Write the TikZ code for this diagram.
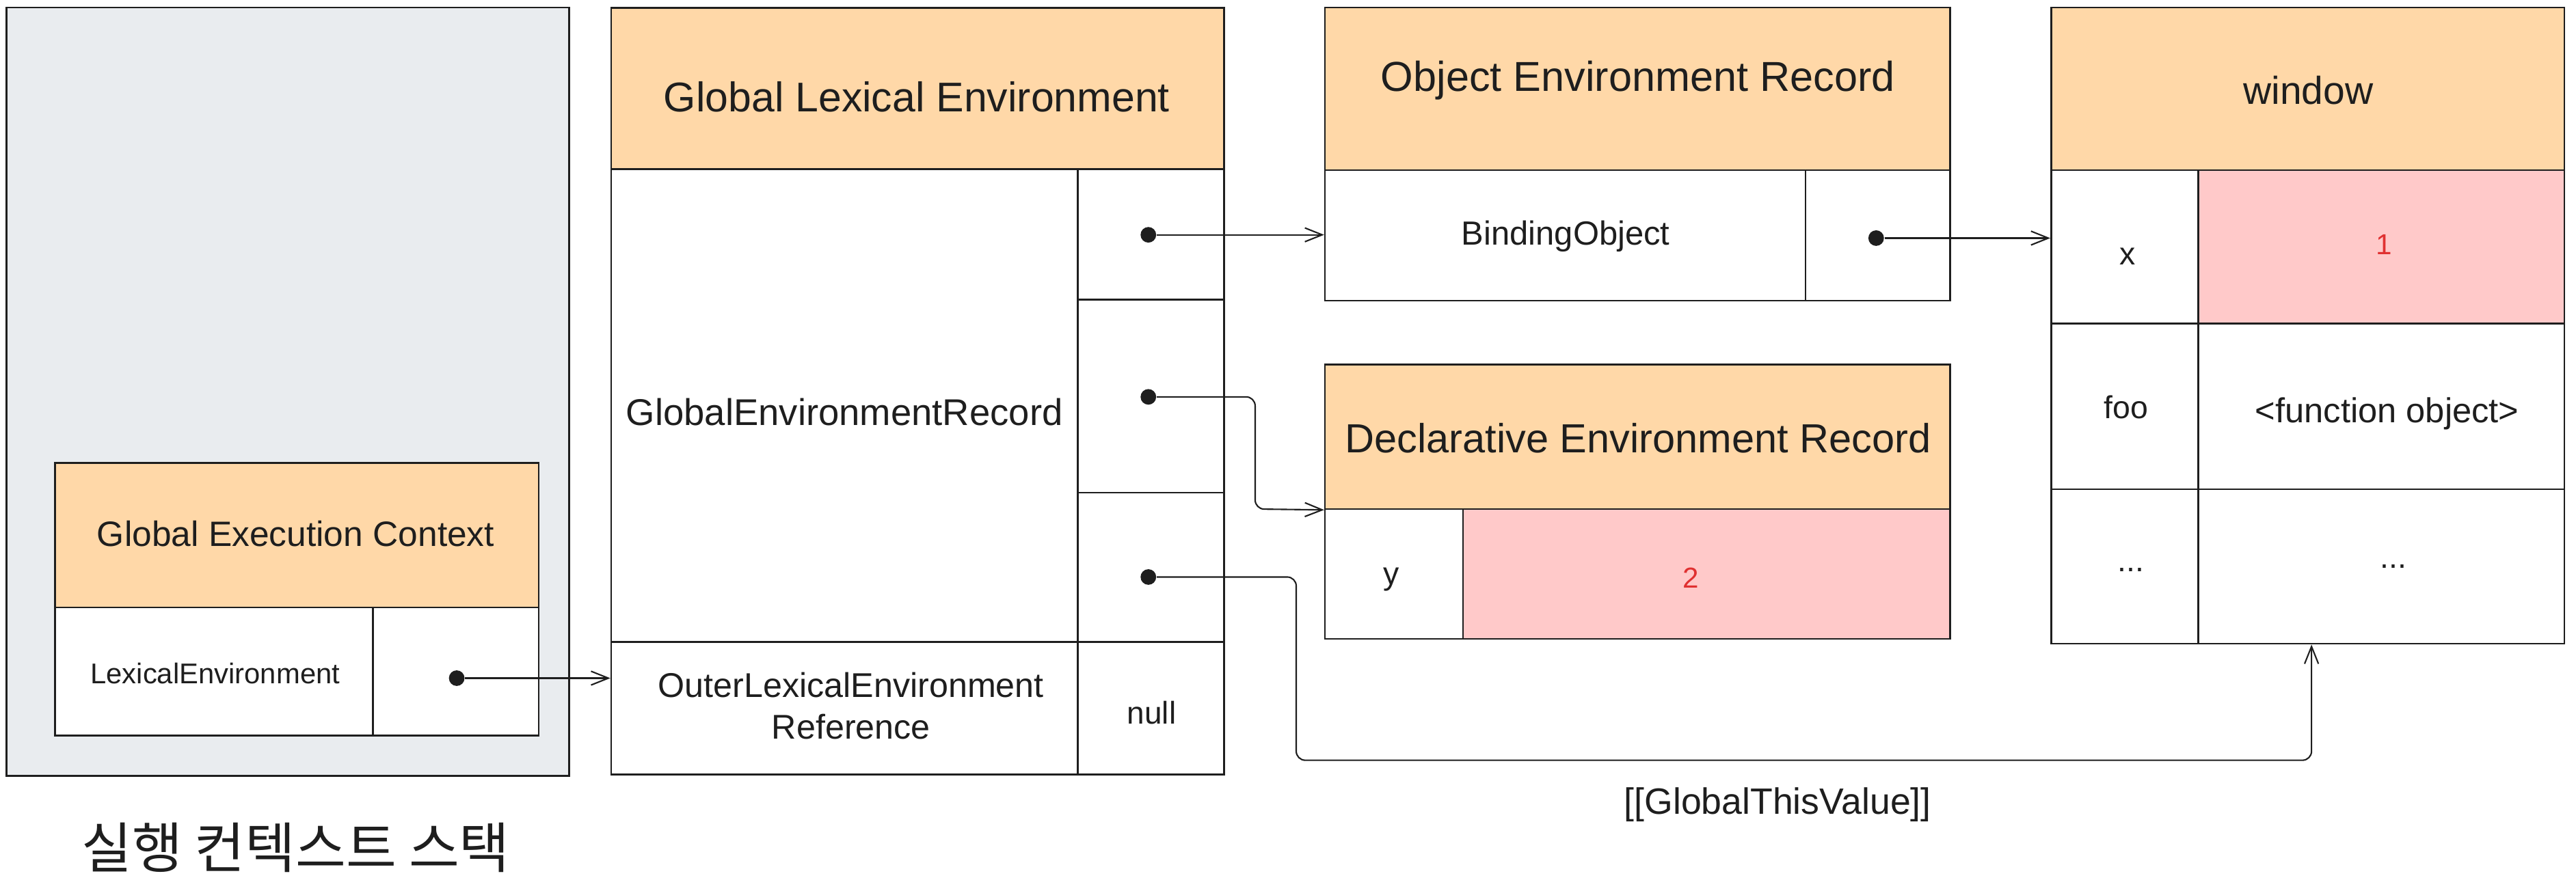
\documentclass[tikz,border=0pt]{standalone}
\usepackage{fontspec}
\setmainfont{Liberation Sans}
\newfontfamily\krfont{Noto Sans CJK KR}
\usetikzlibrary{fit,arrows.meta}
\definecolor{bggray}{HTML}{E9ECEF}
\definecolor{hdr}{HTML}{FFD8A8}
\definecolor{pinkc}{HTML}{FFC9C9}
\definecolor{redt}{HTML}{E03131}
\definecolor{ink}{HTML}{1E1E1E}
\begin{document}
\begin{tikzpicture}[x=0.02cm,y=-0.02cm,
  cell/.style={draw=ink, line width=0.6pt, inner sep=0pt},
  hdrcell/.style={cell, fill=hdr},
  txt/.style={inner sep=0pt, text=ink, align=center, font=\fontsize{#1}{#1}\selectfont},
  redtxt/.style={txt=#1, text=redt},
  dotn/.style={circle, fill=ink, inner sep=0pt, minimum size=0.19cm},
  conn/.style={draw=ink, line width=0.5pt, -{Straight Barb[length=6pt,width=4.8pt]}, rounded corners=0.11cm}
]
\fill[white] (0,0) rectangle (1568,542.6);
\useasboundingbox (0,0) rectangle (1568,542.6);

% execution context stack
\node[cell, fill=bggray, fit={(4,4.5)(346.5,472.5)}] (stack) {};
\node[hdrcell, fit={(33.5,282)(328,370)}] (gec) {};
\node[cell, fill=white, fit={(33.5,370)(227,448)}] (lexenv) {};
\node[cell, fill=white, fit={(227,370)(328,448)}] (lexptr) {};
\node[dotn] (d0) at (278,413) {};
\node[txt=12.2] (gecT) at (180,325) {Global Execution Context};
\node[txt=9.9] (lexenvT) at (131,410) {LexicalEnvironment};
\node[inner sep=0pt, text=ink, font=\krfont\fontsize{19}{19}\selectfont] (kr) at (180,516) {실행 컨텍스트 스택};

% global lexical environment
\node[hdrcell, fit={(372,4.8)(745,103)}] (gle) {};
\node[cell, fit={(372,103)(656,391)}] (ger) {};
\node[cell, fit={(656,103)(745,182.5)}] (gerA) {};
\node[cell, fit={(656,182.5)(745,300)}] (gerB) {};
\node[cell, fit={(656,300)(745,391)}] (gerC) {};
\node[cell, fit={(372,391)(656,471.6)}] (oler) {};
\node[cell, fit={(656,391)(745,471.6)}] (nullc) {};
\node[txt=14.4] (gleT) at (558,59) {Global Lexical Environment};
\node[txt=12.9] (gerT) at (514,251) {GlobalEnvironmentRecord};
\node[txt=11.9, font=\fontsize{11.9}{14.5}\selectfont] (olerT) at (518,430) {OuterLexicalEnvironment\\Reference};
\node[txt=10.9] (nullT) at (701,434) {null};
\node[dotn] (d1) at (699,143) {};
\node[dotn] (d2) at (699,241.7) {};
\node[dotn] (d3) at (699,351.4) {};

% object environment record
\node[hdrcell, fit={(806.5,4.5)(1187,103.6)}] (oer) {};
\node[cell, fit={(806.5,103.6)(1099,183)}] (bind) {};
\node[cell, fit={(1099,103.6)(1187,183)}] (bindptr) {};
\node[dotn] (d4) at (1142,145) {};
\node[txt=14.5] (oerT) at (997,49) {Object Environment Record};
\node[txt=11.6] (bindT) at (953,144) {BindingObject};

% declarative environment record
\node[hdrcell, fit={(806.5,222)(1187,310)}] (der) {};
\node[cell, fit={(806.5,310)(890.5,389)}] (ycell) {};
\node[cell, fill=pinkc, fit={(890.5,310)(1187,389)}] (yval) {};
\node[txt=14.1] (derT) at (997,267) {Declarative Environment Record};
\node[txt=11] (yT) at (847,353) {y};
\node[redtxt=10] (yvT) at (1029,352) {2};

% window
\node[hdrcell, fit={(1248.5,4.5)(1561,103.6)}] (win) {};
\node[cell, fit={(1248.5,103.6)(1338,197)}] (xk) {};
\node[cell, fill=pinkc, fit={(1338,103.6)(1561,197)}] (xv) {};
\node[cell, fit={(1248.5,197)(1338,298)}] (fook) {};
\node[cell, fit={(1338,197)(1561,298)}] (foov) {};
\node[cell, fit={(1248.5,298)(1338,392)}] (dk) {};
\node[cell, fit={(1338,298)(1561,392)}] (dv) {};
\node[txt=13.5] (winT) at (1405,55) {window};
\node[txt=11] (xkT) at (1295,156) {x};
\node[redtxt=10] (xvT) at (1451,149) {1};
\node[txt=11] (fookT) at (1294,248) {foo};
\node[txt=12] (foovT) at (1453,252) {<function object>};
\node[txt=11] (dkT) at (1297,347) {...};
\node[txt=11] (dvT) at (1457,345) {...};

% connectors
\coordinate (k2) at (764,310);
\coordinate (k3) at (789,463);
\coordinate (t3) at (1407,392);
\draw[conn] (d0) -- (d0 -| oler.west);
\draw[conn] (d1) -- (d1 -| bind.west);
\draw[conn] (d4) -- (d4 -| xk.west);
\draw[conn] (d2) -| (k2) -- (der.south west);
\draw[conn] (d3) -| (k3) -| (dv.south -| t3);
\node[txt=12.7] (gtv) at (1082,490) {[[GlobalThisValue]]};
\end{tikzpicture}
\end{document}
